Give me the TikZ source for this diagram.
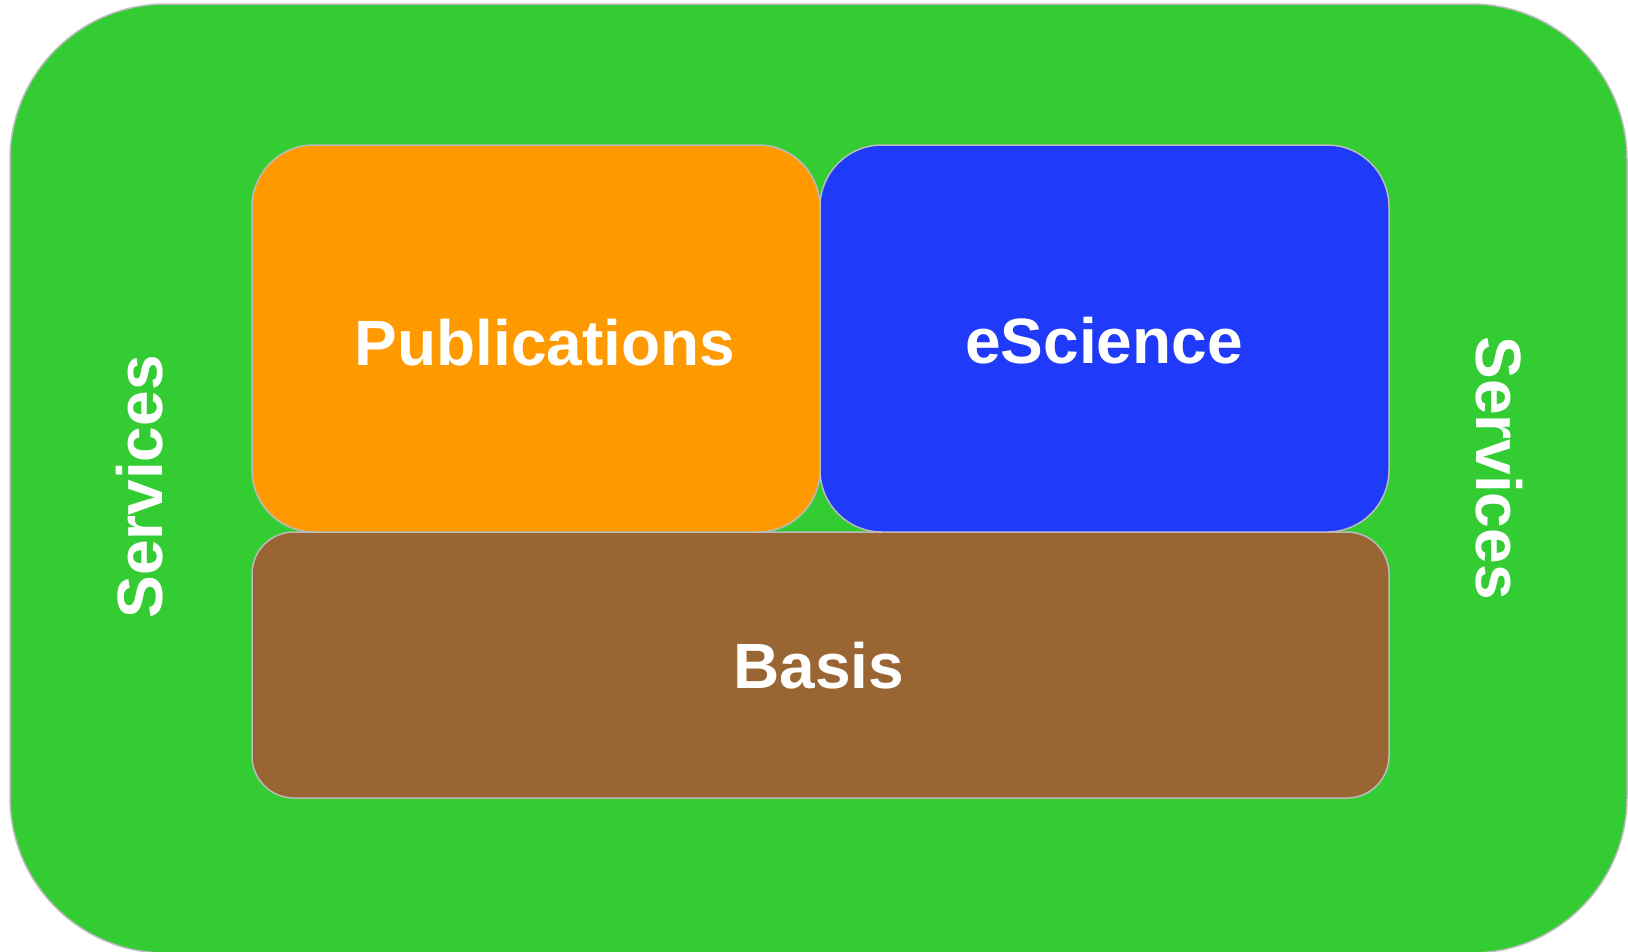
\documentclass[tikz,border=0pt]{standalone}
\usepackage{fontspec}
\setmainfont{Liberation Sans}
\definecolor{svcgreen}{HTML}{33CC33}
\definecolor{puborange}{HTML}{FF9900}
\definecolor{sciblue}{HTML}{1F3AF8}
\definecolor{basisbrown}{HTML}{996633}
\definecolor{edgegray}{HTML}{BBBBBB}
\tikzset{
  panel/.style={draw=edgegray, line width=1.5pt},
  lbl/.style={text=white, font=\fontsize{64}{64}\selectfont\bfseries, inner sep=0pt, anchor=base}
}
\begin{document}
\begin{tikzpicture}[x=1pt,y=-1pt]
\useasboundingbox (0,0) rectangle (1628,951);
\path[panel, fill=svcgreen, rounded corners=156pt] (10,4) rectangle (1627,953);
\path[panel, fill=basisbrown, rounded corners=42pt] (252,532) rectangle (1389,798);
\path[panel, fill=puborange, rounded corners=62pt] (252,145) rectangle (820,532);
\path[panel, fill=sciblue, rounded corners=62pt] (820,145) rectangle (1389,532);
\node[lbl] (pub) at (545,365) {Publications};
\node[lbl] (sci) at (1104,363) {eScience};
\node[lbl] (bas) at (819,688) {Basis};
\node[lbl, rotate=90] (svcl) at (162,487) {Services};
\node[lbl, rotate=-90] (svcr) at (1476,468) {Services};
\end{tikzpicture}
\end{document}
